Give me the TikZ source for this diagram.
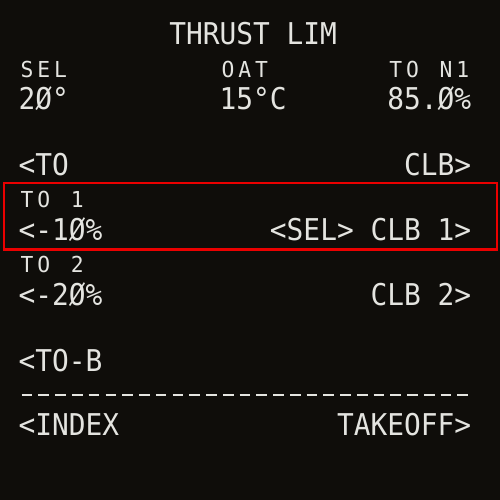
\documentclass[tikz,border=0pt]{standalone}
\usepackage{graphicx}
\usepackage{fontspec}
\newfontfamily\cdufont[FakeStretch=0.928]{DejaVu Sans Mono}
\newfontfamily\cdusmallfont[FakeStretch=0.97]{DejaVu Sans Mono}
\definecolor{cdubg}{RGB}{15,13,10}
\definecolor{cdutext}{RGB}{228,228,224}
\definecolor{cdured}{RGB}{235,0,0}
\def\cduloop#1{\ifx#1\relax\else\makebox[16.76pt]{#1}\expandafter\cduloop\fi}
\newcommand{\cdusmall}[1]{{\cdusmallfont\fontsize{22}{22}\selectfont\cduloop#1\relax}}
\begin{document}
\begin{tikzpicture}[x=1pt,y=-1pt,
  txt/.style={inner sep=0pt, outer sep=0pt, text=cdutext,
    font=\cdufont\fontsize{30}{30}\selectfont},
  lft/.style={txt, anchor=base west},
  rgt/.style={txt, anchor=base east}]
\fill[cdubg] (0,0) rectangle (500,500);
\useasboundingbox (0,0) rectangle (500,500);
% title
\node[lft] (title) at (169.4,45) {THRUST LIM};
% row 2/3
\node[lft] (selh) at (18.6,77.5) {\cdusmall{SEL}};
\node[lft] (oath) at (219.7,77.5) {\cdusmall{OAT}};
\node[rgt] (n1h) at (471.1,77.5) {\cdusmall{TO~N1}};
\node[lft] (selv) at (18.6,110) {2Ø°};
\node[lft] (oatv) at (219.7,110) {15°C};
\node[rgt] (n1v) at (471.1,110) {85.Ø\%};
% row 5
\node[lft] (to) at (18.6,175) {<TO};
\node[rgt] (clb) at (471.1,175) {CLB>};
% row 6/7
\node[lft] (to1h) at (18.6,207.5) {\cdusmall{TO~1}};
\node[lft] (to1v) at (18.6,240) {<-1Ø\%};
\node[rgt] (clb1) at (471.1,240) {<SEL> CLB 1>};
% row 8/9
\node[lft] (to2h) at (18.6,272.5) {\cdusmall{TO~2}};
\node[lft] (to2v) at (18.6,305) {<-2Ø\%};
\node[rgt] (clb2) at (471.1,305) {CLB 2>};
% row 11
\node[lft] (tob) at (18.6,371) {<TO-B};
% separator
\coordinate (sepL) at (21.7,395);
\coordinate (sepR) at (468.2,395);
\draw[cdutext, line width=2.3pt, dash pattern=on 10.7pt off 6.06pt] (sepL) -- (sepR);
% row 13
\node[lft] (index) at (18.6,435) {<INDEX};
\node[rgt] (takeoff) at (471.1,435) {TAKEOFF>};
% highlight
\draw[cdured, line width=2.3pt] (4,183) rectangle (497,249.5);
\end{tikzpicture}
\end{document}
